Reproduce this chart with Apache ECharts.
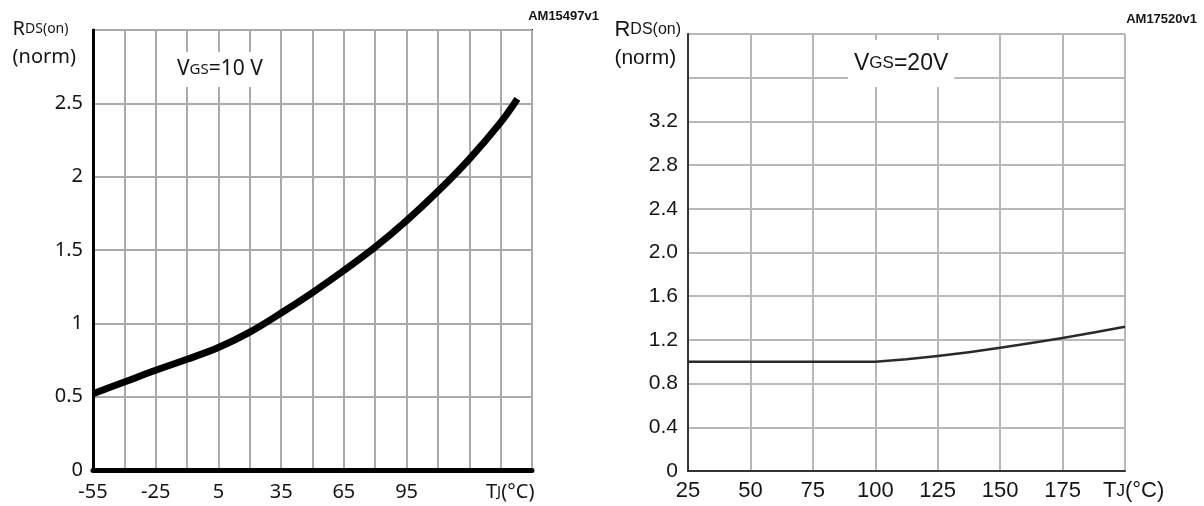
<!DOCTYPE html>
<html>
<head>
<meta charset="utf-8">
<script src="https://cdn.jsdelivr.net/npm/echarts@6/dist/echarts.min.js"></script>
<style>
  html, body { margin: 0; padding: 0; background: #fff; }
  #chart { width: 1204px; height: 506px; }
</style>
</head>
<body>
<div id="chart"></div>
<script>
// left plot: VGS = 10 V, TJ from -55 to 155
const leftTemps = [-55, -40, -25, -10, 5, 20, 35, 50, 65, 80, 95, 110, 125, 140, 148]
const leftRds = [0.52, 0.6, 0.68, 0.755, 0.835, 0.94, 1.07, 1.21, 1.36, 1.52, 1.7, 1.9, 2.12, 2.37, 2.53]
const leftTickLabels = ['-55', '-40', '-25', '-10', '5', '20', '35', '50', '65', '80', '95', '110', '125', '140', '155']

// right plot: VGS = 20 V, TJ from 25 to 200
const rightTemps = [25, 50, 75, 100, 112.5, 125, 137.5, 150, 162.5, 175, 187.5, 200]
const rightRds = [1.0, 1.0, 1.0, 1.0, 1.022, 1.052, 1.088, 1.128, 1.172, 1.218, 1.268, 1.32]

const leftFont = 'Noto Sans'
const rightFont = 'Liberation Sans'
const ink = '#151515'

const chart = echarts.init(document.getElementById('chart'), null, { renderer: 'canvas' })

const txt = (fontFamily, fontSize, lineHeight) => ({ fontFamily, fontSize, lineHeight, color: ink, fontWeight: 'normal' })

const option = {
  animation: false,
  title: [
    {
      text: '{r|R}{s|DS(on)}\n{n|(norm)}',
      right: 1204 - 76,
      top: 15,
      padding: 0,
      textStyle: {
        fontWeight: 'normal',
        rich: { r: txt(leftFont, 20, 28), s: txt(leftFont, 14, 28), n: txt(leftFont, 20, 28) }
      }
    },
    {
      text: 'AM15497v1',
      right: 1204 - 599,
      top: 9,
      padding: 0,
      textStyle: { fontFamily: rightFont, fontSize: 13, fontWeight: 'bold', color: ink, lineHeight: 15 }
    },
    {
      text: '{v|V}{g|GS}{v|=10 V}',
      left: 172,
      top: 52,
      padding: [7, 5, 7, 5],
      backgroundColor: '#fff',
      textStyle: {
        fontWeight: 'normal',
        rich: { v: txt(leftFont, 21, 21), g: txt(leftFont, 15, 21) }
      }
    },
    {
      text: '{t|T}{j|J}{t|(°C)}',
      left: 486,
      top: 481,
      padding: 0,
      textStyle: {
        fontWeight: 'normal',
        rich: { t: txt(leftFont, 20, 22), j: txt(leftFont, 15, 22) }
      }
    },
    {
      text: '{r|R}{s|DS(on)}\n{n|(norm)}',
      right: 1204 - 681,
      top: 16,
      padding: 0,
      textStyle: {
        fontWeight: 'normal',
        rich: { r: txt(rightFont, 22, 28), s: txt(rightFont, 16, 28), n: txt(rightFont, 21, 28) }
      }
    },
    {
      text: 'AM17520v1',
      right: 7,
      top: 12,
      padding: 0,
      textStyle: { fontFamily: rightFont, fontSize: 13, fontWeight: 'bold', color: ink, lineHeight: 15 }
    },
    {
      text: '{v|V}{g|GS}{v|=20V}',
      left: 848,
      top: 40,
      padding: [12, 6, 12, 6],
      backgroundColor: '#fff',
      textStyle: {
        fontWeight: 'normal',
        rich: { v: txt(rightFont, 23, 23), g: txt(rightFont, 17, 23) }
      }
    },
    {
      text: '{t|T}{j|J}{t|(°C)}',
      left: 1103,
      top: 480,
      padding: 0,
      textStyle: {
        fontWeight: 'normal',
        rich: { t: txt(rightFont, 22, 22), j: txt(rightFont, 17, 22) }
      }
    }
  ],
  grid: [
    { left: 93, top: 30, width: 439, height: 440, show: true, borderColor: '#111', borderWidth: 2 },
    { left: 688, top: 34, width: 437, height: 437 }
  ],
  xAxis: [
    // value axis carrying the data of the left curve (hidden)
    { gridIndex: 0, type: 'value', min: -55, max: 155, show: false },
    // category axis drawing the 15 °C grid and labels of the left plot
    {
      gridIndex: 0,
      type: 'category',
      data: leftTickLabels,
      boundaryGap: false,
      position: 'bottom',
      axisLine: { show: true, onZero: false, lineStyle: { color: '#000', width: 5 } },
      axisTick: { show: false },
      axisLabel: {
        interval: 0,
        margin: 12,
        fontFamily: leftFont,
        fontSize: 20,
        color: ink,
        formatter: (v, i) => (i % 2 === 0 && i <= 10 ? v : '')
      },
      splitLine: { show: true, lineStyle: { color: '#aaa', width: 2 } }
    },
    {
      gridIndex: 1,
      type: 'value',
      min: 25,
      max: 200,
      interval: 25,
      axisLine: { show: true, onZero: false, lineStyle: { color: '#333', width: 2 } },
      axisTick: { show: false },
      axisLabel: {
        margin: 9,
        fontFamily: rightFont,
        fontSize: 22,
        color: ink,
        formatter: v => (v === 200 ? '' : String(v))
      },
      splitLine: { show: true, lineStyle: { color: '#b8b8b8', width: 2 } }
    }
  ],
  yAxis: [
    {
      gridIndex: 0,
      type: 'value',
      min: 0,
      max: 3,
      interval: 0.5,
      axisLine: { show: true, onZero: false, lineStyle: { color: '#000', width: 3 } },
      axisTick: { show: false },
      axisLabel: {
        margin: 10,
        fontFamily: leftFont,
        fontSize: 20,
        color: ink,
        formatter: v => (v === 3 ? '' : String(v))
      },
      splitLine: { show: true, lineStyle: { color: '#aaa', width: 2 } }
    },
    {
      gridIndex: 1,
      type: 'value',
      min: 0,
      max: 4,
      interval: 0.4,
      axisLine: { show: true, onZero: false, lineStyle: { color: '#333', width: 2 } },
      axisTick: { show: false },
      axisLabel: {
        margin: 10,
        fontFamily: rightFont,
        fontSize: 21,
        color: ink,
        formatter: v => (v > 3.5 ? '' : v === 0 ? '0' : v.toFixed(1))
      },
      splitLine: { show: true, lineStyle: { color: '#b8b8b8', width: 2 } }
    }
  ],
  series: [
    {
      type: 'line',
      xAxisIndex: 0,
      yAxisIndex: 0,
      data: leftTemps.map((t, i) => [t, leftRds[i]]),
      smooth: 0.4,
      showSymbol: false,
      lineStyle: { color: '#000', width: 7 },
      z: 5
    },
    {
      type: 'line',
      xAxisIndex: 2,
      yAxisIndex: 1,
      data: rightTemps.map((t, i) => [t, rightRds[i]]),
      smooth: false,
      showSymbol: false,
      lineStyle: { color: '#2a2a2a', width: 2.5, join: 'round' },
      z: 5
    }
  ]
}

chart.setOption(option)
</script>
</body>
</html>
